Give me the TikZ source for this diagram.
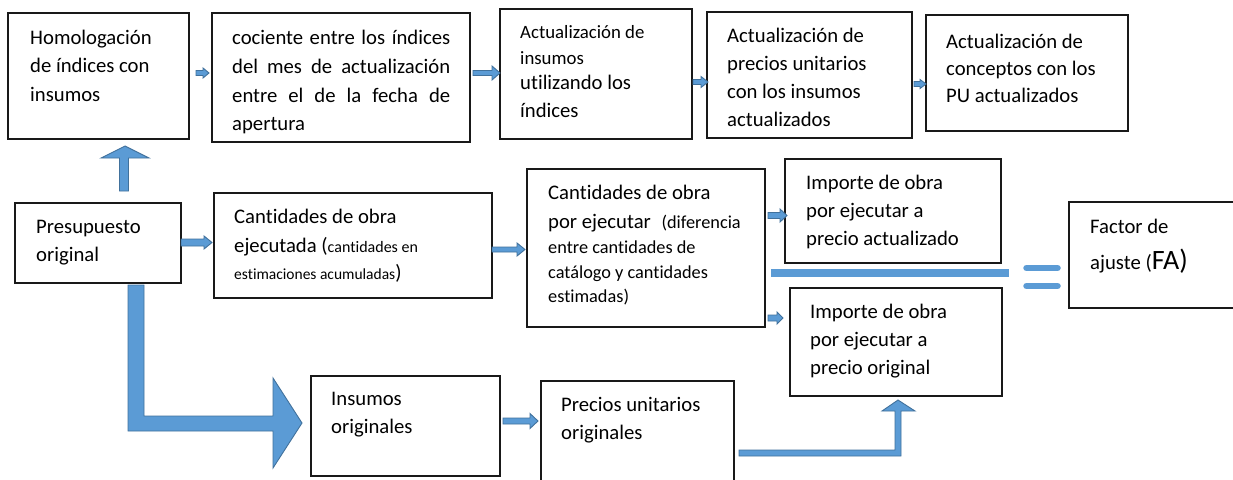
\documentclass[tikz,border=0pt]{standalone}
\usepackage{fontspec}
\setmainfont{Carlito}[Ligatures=CommonOff]
\definecolor{afill}{HTML}{5B9BD5}
\definecolor{aline}{HTML}{41719C}
\newcommand\fstr{\rule{0pt}{20pt}}
\newcommand\harr[6]{% x1, xhead, xtip, y, shaft half, head half
  \filldraw[barrow] (#1,{#4-#5}) -- (#2,{#4-#5}) -- (#2,{#4-#6}) -- (#3,#4)
    -- (#2,{#4+#6}) -- (#2,{#4+#5}) -- (#1,{#4+#5}) -- cycle;}
\begin{document}
\begin{tikzpicture}[x=1pt,y=-1pt,
  box/.style={draw=black!90, line width=1.3pt, inner sep=0pt},
  txt/.style={anchor=north west, inner sep=0pt, align=left},
  barrow/.style={fill=afill, draw=aline, line width=0.9pt, line join=miter},
  sepbar/.style={draw=afill, line width=8pt},
  eqbar/.style={draw=afill, line width=6.5pt, line cap=round}]
\useasboundingbox (0,0) rectangle (1233,479);
\fill[white] (0,0) rectangle (1233,479);
% boxes
\node[box, minimum width=181pt, minimum height=126pt] (A) at (98.5,76) {};
\node[box, minimum width=258pt, minimum height=129pt] (B) at (341,77.5) {};
\node[box, minimum width=192pt, minimum height=130pt] (C) at (596,74) {};
\node[box, minimum width=205pt, minimum height=126pt] (D) at (809.5,75) {};
\node[box, minimum width=202pt, minimum height=116pt] (E) at (1027,73) {};
\node[box, minimum width=166pt, minimum height=80pt] (P) at (98,243) {};
\node[box, minimum width=278pt, minimum height=105pt] (CE) at (353,245.5) {};
\node[box, minimum width=238pt, minimum height=158pt] (CP) at (646,248) {};
\node[box, minimum width=216pt, minimum height=104pt] (IA) at (893,211) {};
\node[box, minimum width=212pt, minimum height=108pt] (IO) at (896,342) {};
\node[box, minimum width=171pt, minimum height=106pt] (FA) at (1154.5,255) {};
\node[box, minimum width=189pt, minimum height=100pt] (IN) at (405.5,426) {};
\node[box, minimum width=193pt, minimum height=109pt] (PU) at (637.5,435.5) {};
% texts
\node[txt, font=\fontsize{20.7}{28.5}\selectfont] (At) at (30,24) {\fstr Homologación\\de índices con\\insumos};
\node[txt, text width=218pt, align=justify, font=\fontsize{20.7}{28.7}\selectfont] (Bt) at (232,24.4)
  {\fstr cociente entre los índices\linebreak del mes de actualización\linebreak entre el de la fecha de\linebreak apertura};
\node[txt, font=\fontsize{18.8}{26}\selectfont] (Ct) at (520,18)
  {\fstr Actualización de\\insumos\\[-1pt]{\fontsize{20.7}{28}\selectfont utilizando los}\\[2pt]{\fontsize{20.7}{28}\selectfont índices}};
\node[txt, font=\fontsize{20.7}{27.8}\selectfont] (Dt) at (727,22.5) {\fstr Actualización de\\precios unitarios\\con los insumos\\actualizados};
\node[txt, font=\fontsize{20.7}{27}\selectfont] (Et) at (946,28.5) {\fstr Actualización de\\conceptos con los\\PU actualizados};
\node[txt, font=\fontsize{20.7}{28}\selectfont] (Pt) at (36,213.5) {\fstr Presupuesto\\original};
\node[txt, font=\fontsize{20.7}{29.3}\selectfont] (CEt) at (234,203)
  {\fstr Cantidades de obra\\ejecutada ({\fontsize{16}{20}\selectfont cantidades en}\\[-2.3pt]{\fontsize{15.5}{20}\selectfont estimaciones acumuladas})};
\node[txt, font=\fontsize{20.7}{29}\selectfont] (CPt) at (548,179.5)
  {\fstr Cantidades de obra\\por ejecutar\hspace{6pt} {\fontsize{18.3}{24}\selectfont (diferencia}\\[-4pt]{\fontsize{18.3}{24}\selectfont entre cantidades de}\\[-4pt]{\fontsize{18.3}{24}\selectfont catálogo y cantidades}\\[-5pt]{\fontsize{18.3}{24}\selectfont estimadas)}};
\node[txt, font=\fontsize{20.7}{28}\selectfont] (IAt) at (806,169.5) {\fstr Importe de obra\\por ejecutar a\\precio actualizado};
\node[txt, font=\fontsize{20.7}{28}\selectfont] (IOt) at (810,298.5) {\fstr Importe de obra\\por ejecutar a\\precio original};
\node[txt, font=\fontsize{20.7}{35.5}\selectfont] (FAt) at (1090,213.5) {\fstr Factor de\\ajuste ({\fontsize{28}{34}\selectfont FA)}};
\node[txt, font=\fontsize{20.7}{28}\selectfont] (INt) at (331,385.5) {\fstr Insumos\\originales};
\node[txt, font=\fontsize{20.7}{28}\selectfont] (PUt) at (561,391.5) {\fstr Precios unitarios\\originales};
% block arrows
\harr{196}{203}{209}{73}{2.5}{5}
\harr{473}{492}{500}{73}{2.5}{7}
\harr{693}{701}{708}{82}{2.5}{5.5}
\harr{914}{920}{926}{84}{2.5}{4.5}
\harr{181}{204}{212}{242.5}{3.5}{6.5}
\harr{492}{517}{525}{249.5}{2.5}{6.5}
\harr{768}{780}{787}{215.5}{3}{6.5}
\harr{768}{777}{783}{318}{3}{6}
\harr{503}{530}{538}{421}{3}{7.5}
% up arrow P -> A
\filldraw[barrow] (119.5,191) -- (119.5,158) -- (101,158) -- (125,146) -- (149,158) -- (128.5,158) -- (128.5,191) -- cycle;
% big L arrow P -> IN
\filldraw[barrow] (128,285) -- (144,285) -- (144,416) -- (273,416) -- (273,378) -- (302,423) -- (273,468) -- (273,431) -- (128,431) -- cycle;
% L arrow PU -> IO
\filldraw[barrow] (739,450) -- (895,450) -- (895,411) -- (882,411) -- (898,400) -- (915,411) -- (901,411) -- (901,456) -- (739,456) -- cycle;
% fraction bar and equals sign
\draw[sepbar] (771,273) -- (1009,273);
\draw[eqbar] (1026.5,268) -- (1057.5,268);
\draw[eqbar] (1026.5,286) -- (1057.5,286);
\end{tikzpicture}
\end{document}
